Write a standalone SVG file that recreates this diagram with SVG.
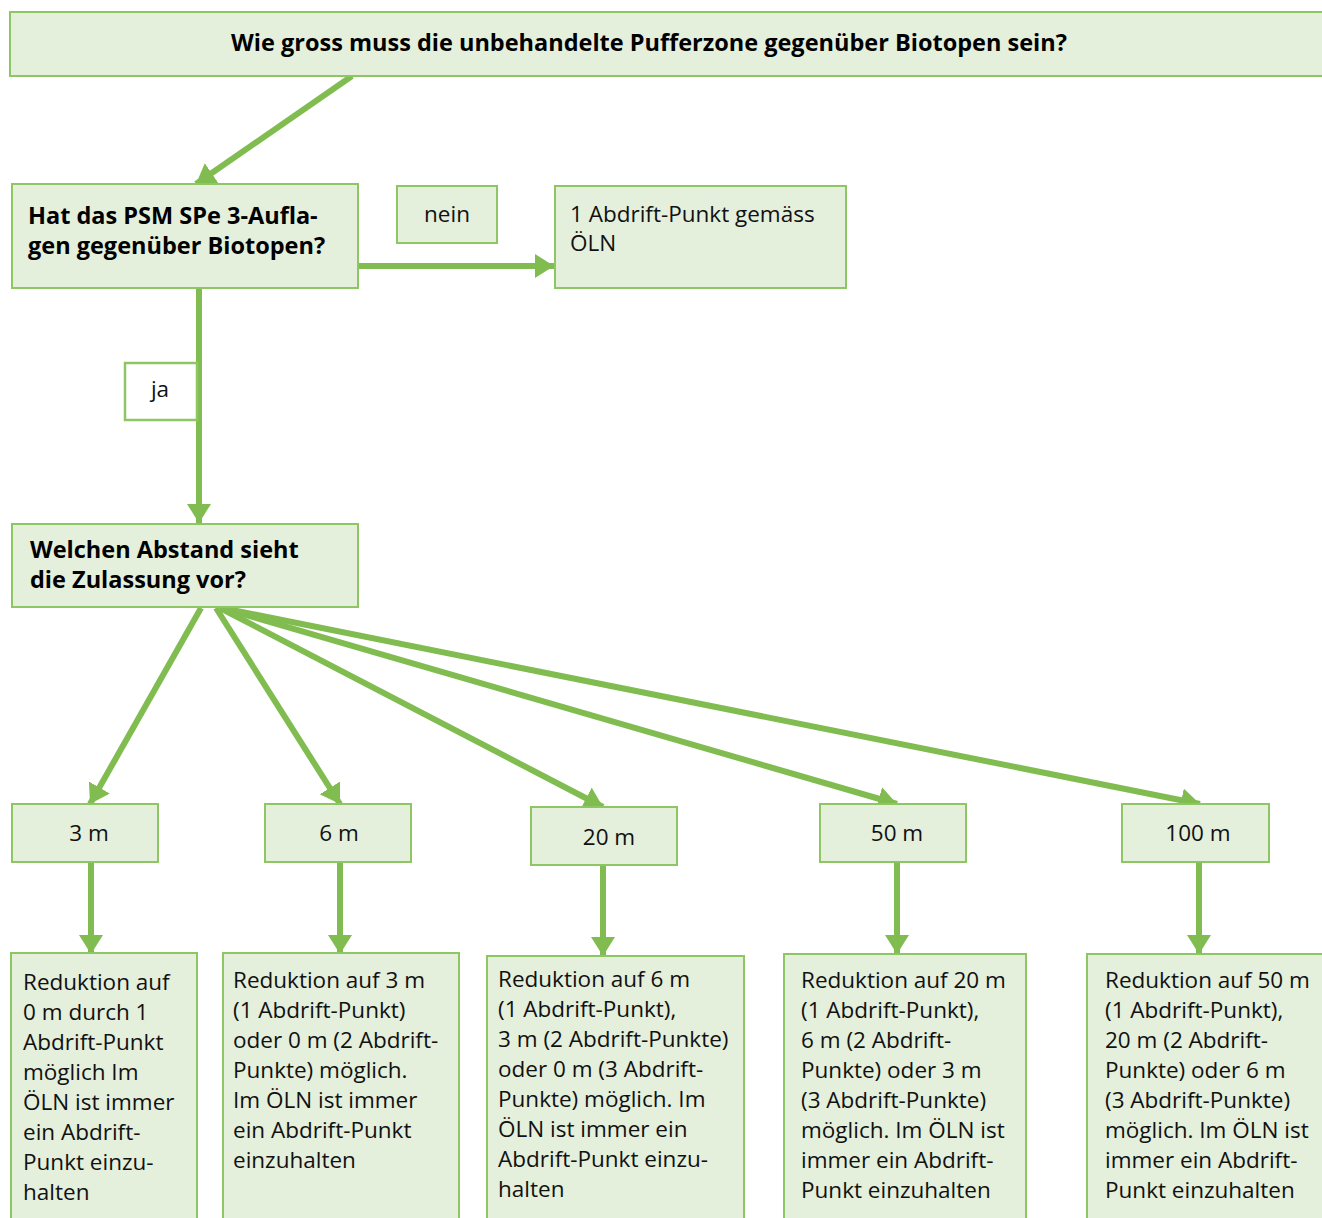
<svg xmlns="http://www.w3.org/2000/svg" width="1322" height="1218" viewBox="0 0 1322 1218">
<defs>
<style>
.box{fill:#e4efdc;stroke:#8dc663;stroke-width:2}
.wbox{fill:#ffffff;stroke:#8dc663;stroke-width:2.5}
.t{font-family:"Open Sans","Noto Sans",sans-serif;font-size:22.5px;fill:#111}
.b{font-family:"Open Sans","Noto Sans",sans-serif;font-size:23.5px;font-weight:bold;fill:#000}
.c{text-anchor:middle}
.ln{stroke:#80bc50;stroke-width:6;fill:none}
</style>
<marker id="ah" markerUnits="userSpaceOnUse" markerWidth="22" markerHeight="26" refX="19" refY="12" orient="auto" viewBox="0 0 22 26">
<path d="M0,0 L19,12 L0,24 Z" fill="#80bc50"/>
</marker>
</defs>
<rect width="1322" height="1218" fill="#ffffff"/>

<g id="connectors">
<line class="ln" x1="352" y1="76" x2="196" y2="184" marker-end="url(#ah)"/>
<line class="ln" x1="358" y1="266" x2="554" y2="266" marker-end="url(#ah)"/>
<line class="ln" x1="199" y1="288" x2="199" y2="523" marker-end="url(#ah)"/>
<line class="ln" x1="201" y1="608" x2="90" y2="804" marker-end="url(#ah)"/>
<line class="ln" x1="216" y1="608" x2="340" y2="804" marker-end="url(#ah)"/>
<line class="ln" x1="220" y1="608" x2="603" y2="807" marker-end="url(#ah)"/>
<line class="ln" x1="222" y1="608" x2="897" y2="804" marker-end="url(#ah)"/>
<line class="ln" x1="222" y1="608" x2="1200" y2="804" marker-end="url(#ah)"/>
<line class="ln" x1="91" y1="862" x2="91" y2="954" marker-end="url(#ah)"/>
<line class="ln" x1="340" y1="862" x2="340" y2="954" marker-end="url(#ah)"/>
<line class="ln" x1="603" y1="865" x2="603" y2="956" marker-end="url(#ah)"/>
<line class="ln" x1="897" y1="862" x2="897" y2="954" marker-end="url(#ah)"/>
<line class="ln" x1="1199" y1="862" x2="1199" y2="954" marker-end="url(#ah)"/>
</g>

<g id="title">
<rect class="box" x="10" y="12" width="1320" height="64"/>
<text class="b c" x="649" y="51">Wie gross muss die unbehandelte Pufferzone gegenüber Biotopen sein?</text>
</g>

<g id="q1">
<rect class="box" x="12" y="184" width="346" height="104"/>
<text class="b" x="28" y="224">Hat das PSM SPe 3-Aufla-</text>
<text class="b" x="28" y="254">gen gegenüber Biotopen?</text>
</g>

<g id="nein">
<rect class="box" x="397" y="186" width="100" height="57"/>
<text class="t c" x="447" y="222">nein</text>
</g>

<g id="punkt1">
<rect class="box" x="555" y="186" width="291" height="102"/>
<text class="t" x="570" y="222">1 Abdrift-Punkt gemäss</text>
<text class="t" x="570" y="251">ÖLN</text>
</g>

<g id="ja">
<rect class="wbox" x="125" y="363" width="72" height="57"/>
<text class="t c" x="160" y="397">ja</text>
</g>

<g id="q2">
<rect class="box" x="12" y="524" width="346" height="83"/>
<text class="b" x="30" y="558">Welchen Abstand sieht</text>
<text class="b" x="30" y="588">die Zulassung vor?</text>
</g>

<g id="m3">
<rect class="box" x="12" y="804" width="146" height="58"/>
<text class="t c" x="89" y="841">3 m</text>
</g>
<g id="m6">
<rect class="box" x="265" y="804" width="146" height="58"/>
<text class="t c" x="339" y="841">6 m</text>
</g>
<g id="m20">
<rect class="box" x="531" y="807" width="146" height="58"/>
<text class="t c" x="609" y="845">20 m</text>
</g>
<g id="m50">
<rect class="box" x="820" y="804" width="146" height="58"/>
<text class="t c" x="897" y="841">50 m</text>
</g>
<g id="m100">
<rect class="box" x="1122" y="804" width="147" height="58"/>
<text class="t c" x="1198" y="841">100 m</text>
</g>

<g id="r3">
<rect class="box" x="11" y="953" width="186" height="280"/>
<text class="t" x="23" y="990">Reduktion auf</text>
<text class="t" x="23" y="1020">0 m durch 1</text>
<text class="t" x="23" y="1050">Abdrift-Punkt</text>
<text class="t" x="23" y="1080">möglich Im</text>
<text class="t" x="23" y="1110">ÖLN ist immer</text>
<text class="t" x="23" y="1140">ein Abdrift-</text>
<text class="t" x="23" y="1170">Punkt einzu-</text>
<text class="t" x="23" y="1200">halten</text>
</g>

<g id="r6">
<rect class="box" x="223" y="953" width="236" height="280"/>
<text class="t" x="233" y="988">Reduktion auf 3 m</text>
<text class="t" x="233" y="1018">(1 Abdrift-Punkt)</text>
<text class="t" x="233" y="1048">oder 0 m (2 Abdrift-</text>
<text class="t" x="233" y="1078">Punkte) möglich.</text>
<text class="t" x="233" y="1108">Im ÖLN ist immer</text>
<text class="t" x="233" y="1138">ein Abdrift-Punkt</text>
<text class="t" x="233" y="1168">einzuhalten</text>
</g>

<g id="r20">
<rect class="box" x="487" y="956" width="257" height="280"/>
<text class="t" x="498" y="987">Reduktion auf 6 m</text>
<text class="t" x="498" y="1017">(1 Abdrift-Punkt),</text>
<text class="t" x="498" y="1047">3 m (2 Abdrift-Punkte)</text>
<text class="t" x="498" y="1077">oder 0 m (3 Abdrift-</text>
<text class="t" x="498" y="1107">Punkte) möglich. Im</text>
<text class="t" x="498" y="1137">ÖLN ist immer ein</text>
<text class="t" x="498" y="1167">Abdrift-Punkt einzu-</text>
<text class="t" x="498" y="1197">halten</text>
</g>

<g id="r50">
<rect class="box" x="784" y="954" width="242" height="280"/>
<text class="t" x="801" y="988">Reduktion auf 20 m</text>
<text class="t" x="801" y="1018">(1 Abdrift-Punkt),</text>
<text class="t" x="801" y="1048">6 m (2 Abdrift-</text>
<text class="t" x="801" y="1078">Punkte) oder 3 m</text>
<text class="t" x="801" y="1108">(3 Abdrift-Punkte)</text>
<text class="t" x="801" y="1138">möglich. Im ÖLN ist</text>
<text class="t" x="801" y="1168">immer ein Abdrift-</text>
<text class="t" x="801" y="1198">Punkt einzuhalten</text>
</g>

<g id="r100">
<rect class="box" x="1087" y="954" width="250" height="280"/>
<text class="t" x="1105" y="988">Reduktion auf 50 m</text>
<text class="t" x="1105" y="1018">(1 Abdrift-Punkt),</text>
<text class="t" x="1105" y="1048">20 m (2 Abdrift-</text>
<text class="t" x="1105" y="1078">Punkte) oder 6 m</text>
<text class="t" x="1105" y="1108">(3 Abdrift-Punkte)</text>
<text class="t" x="1105" y="1138">möglich. Im ÖLN ist</text>
<text class="t" x="1105" y="1168">immer ein Abdrift-</text>
<text class="t" x="1105" y="1198">Punkt einzuhalten</text>
</g>
</svg>
